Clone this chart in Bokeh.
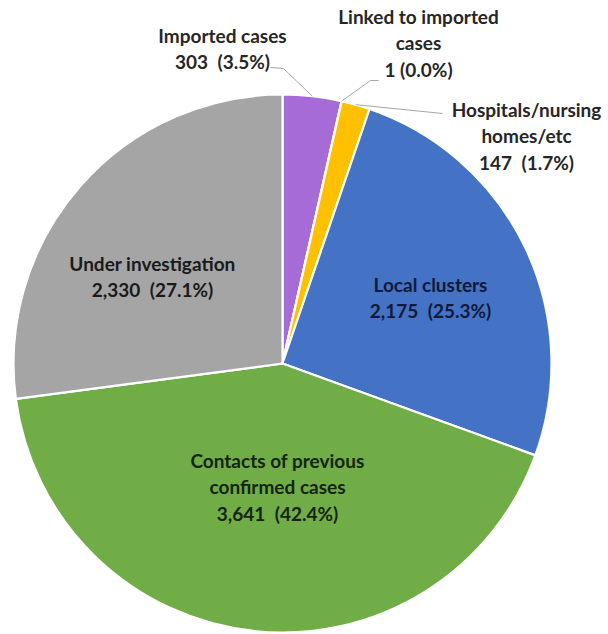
import numpy as np
from bokeh.plotting import figure
from bokeh.models import Range1d
from bokeh.core.properties import value
from bokeh.embed import file_html
from bokeh.resources import INLINE

# ---- data ----
categories = ["Imported cases", "Linked to imported cases", "Hospitals/nursing homes/etc",
              "Local clusters", "Contacts of previous confirmed cases", "Under investigation"]
counts = [303, 1, 147, 2175, 3641, 2330]
label_lines = [["Imported cases"], ["Linked to imported", "cases"], ["Hospitals/nursing", "homes/etc"],
               ["Local clusters"], ["Contacts of previous", "confirmed cases"], ["Under investigation"]]

# ---- style / layout ----
colors = ["#A66BD7", "#ED7D31", "#FFC000", "#4472C4", "#70AD47", "#A5A5A5"]
text_colors = ["#262626", "#262626", "#262626", "#111A3A", "#142410", "#1A1A1A"]
W, H = 606, 633
CX, CY, R = 282, 363, 269          # pie centre / radius in page pixels
# label block centre (page px) for each slice, and leader-line elbow points (None = inside label)
label_pos = [(222, 48), (418, 42), (526, 135), (430, 297), (277, 486), (152, 276)]
leader_pts = [[(270, 67), (283, 68)], [(378, 80), (370, 80)], [(442, 113)], None, None, None]
LINE_H = 26.5
FONT = "Lato"
FSIZE = "19px"

def dx(x):
    return x

def dy(y):
    return H - y

p = figure(width=W, height=H, x_range=Range1d(0, W), y_range=Range1d(0, H),
           output_backend="svg", toolbar_location=None, min_border=0)
p.axis.visible = False
p.grid.visible = False
p.outline_line_color = None
p.background_fill_color = "white"
p.border_fill_color = "white"

vals = np.array(counts, dtype=float)
frac = vals / vals.sum()
cum = np.concatenate([[0.0], np.cumsum(frac)])
start = np.pi / 2 - 2 * np.pi * cum[:-1]
end = np.pi / 2 - 2 * np.pi * cum[1:]

p.wedge(x=dx(CX), y=dy(CY), radius=R, start_angle=list(start), end_angle=list(end),
        direction="clock", fill_color=colors, line_color="white", line_width=2.2)

# leader lines for outside labels
for i, pts in enumerate(leader_pts):
    if pts is None:
        continue
    mid = np.pi / 2 - 2 * np.pi * (cum[i] + cum[i + 1]) / 2
    ex = dx(CX) + R * np.cos(mid)
    ey = dy(CY) + R * np.sin(mid)
    xs = [dx(a) for a, b in pts] + [ex]
    ys = [dy(b) for a, b in pts] + [ey]
    p.line(xs, ys, line_color="#A6A6A6", line_width=1)

# labels
for i, lines in enumerate(label_lines):
    pct = 100 * frac[i]
    lines_all = lines + [f"{counts[i]:,}\u2002({pct:.1f}%)" if counts[i] > 1 else f"{counts[i]:,} ({pct:.1f}%)"]
    n = len(lines_all)
    cx, cy = label_pos[i]
    xs = [dx(cx)] * n
    ys = [dy(cy + (k - (n - 1) / 2) * LINE_H) for k in range(n)]
    p.text(x=xs, y=ys, text=lines_all, text_align="center", text_baseline="middle",
           text_font=value(FONT), text_font_style="bold", text_font_size=FSIZE,
           text_color=text_colors[i])

open("out.html", "w").write(file_html(p, INLINE))
